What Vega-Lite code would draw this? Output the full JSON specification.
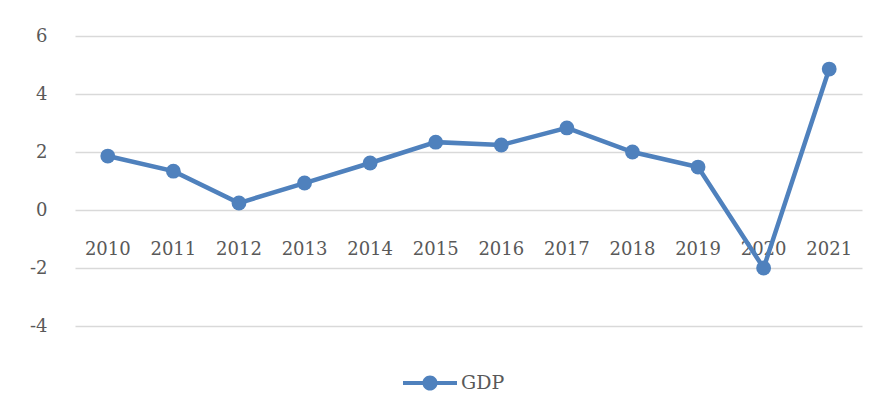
{
  "$schema": "https://vega.github.io/schema/vega-lite/v6.json",
  "width": 787,
  "height": 290,
  "autosize": {"type": "none"},
  "padding": {"left": 75, "top": 36, "right": 15, "bottom": 94},
  "background": "white",
  "config": {
    "view": {"stroke": null},
    "font": "DejaVu Serif"
  },
  "data": {
    "values": [
      {"year": "2010", "gdp": 1.86, "series": "GDP"},
      {"year": "2011", "gdp": 1.34, "series": "GDP"},
      {"year": "2012", "gdp": 0.24, "series": "GDP"},
      {"year": "2013", "gdp": 0.93, "series": "GDP"},
      {"year": "2014", "gdp": 1.62, "series": "GDP"},
      {"year": "2015", "gdp": 2.34, "series": "GDP"},
      {"year": "2016", "gdp": 2.24, "series": "GDP"},
      {"year": "2017", "gdp": 2.83, "series": "GDP"},
      {"year": "2018", "gdp": 2.0, "series": "GDP"},
      {"year": "2019", "gdp": 1.48, "series": "GDP"},
      {"year": "2020", "gdp": -2.0, "series": "GDP"},
      {"year": "2021", "gdp": 4.86, "series": "GDP"}
    ]
  },
  "encoding": {
    "x": {
      "field": "year", "type": "ordinal",
      "scale": {"type": "band", "paddingInner": 0, "paddingOuter": 0},
      "axis": {
        "title": null, "orient": "bottom", "offset": -116,
        "domain": false, "ticks": false, "grid": false,
        "labelAngle": 0, "labelFontSize": 18, "labelColor": "#595959",
        "labelFont": "DejaVu Serif", "labelPadding": 30
      }
    },
    "y": {
      "field": "gdp", "type": "quantitative",
      "scale": {"domain": [-4, 6], "nice": false, "zero": false},
      "axis": {
        "title": null, "values": [-4, -2, 0, 2, 4, 6],
        "labelExpr": "toString(datum.value)",
        "domain": false, "ticks": false, "grid": true,
        "gridColor": "#D9D9D9", "gridWidth": 1.3,
        "labelFontSize": 18, "labelColor": "#595959",
        "labelFont": "DejaVu Serif", "labelPadding": 28
      }
    },
    "color": {
      "field": "series", "type": "nominal",
      "scale": {"range": ["#4F81BD"]},
      "legend": {
        "title": null, "orient": "none", "legendX": 328, "legendY": 320,
        "symbolType": "M-1,-0.075H1V0.075H-1Z M-0.28,0A0.28,0.28 0 1,1 0.28,0A0.28,0.28 0 1,1 -0.28,0Z",
        "symbolSize": 2916, "symbolFillColor": "#4F81BD", "symbolStrokeWidth": 0,
        "symbolOpacity": 1,
        "labelFontSize": 19, "labelColor": "#595959", "labelFont": "DejaVu Serif",
        "labelOffset": 4
      }
    }
  },
  "layer": [
    {"mark": {"type": "line", "strokeWidth": 4.5}},
    {"mark": {"type": "point", "filled": true, "size": 220, "opacity": 1}}
  ]
}
